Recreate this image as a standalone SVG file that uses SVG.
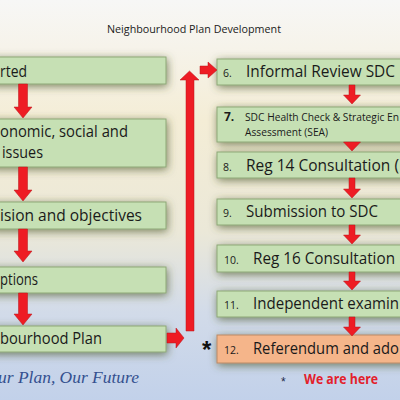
<svg xmlns="http://www.w3.org/2000/svg" width="400" height="400" viewBox="0 0 400 400">
<defs>
<linearGradient id="bg" x1="0" y1="0" x2="0" y2="1">
<stop offset="0" stop-color="#f7f7f6"/>
<stop offset="0.12" stop-color="#f6f3ea"/>
<stop offset="0.3" stop-color="#f4edd6"/>
<stop offset="0.58" stop-color="#ebe8d8"/>
<stop offset="0.78" stop-color="#d2dbe9"/>
<stop offset="1" stop-color="#c2d1ea"/>
</linearGradient>
<filter id="sh" x="-20%" y="-70%" width="140%" height="240%">
<feGaussianBlur in="SourceAlpha" stdDeviation="4.5"/>
<feOffset dx="1" dy="2" result="b"/>
<feFlood flood-color="#4a5628" flood-opacity="0.7"/>
<feComposite in2="b" operator="in"/>
<feMerge><feMergeNode/><feMergeNode in="SourceGraphic"/></feMerge>
</filter>
<style>
.box{fill:#c6e0b4;stroke:#8ea877;stroke-width:1;filter:url(#sh)}
.org{fill:#f5b58a;stroke:#b98a66;stroke-width:1;filter:url(#sh)}
.t{font-family:"Open Sans","Liberation Sans",sans-serif;fill:#1a1a1a}
.big{font-size:15.5px}
.num{font-size:10.5px}
.sm{font-size:11px}
.arr{fill:#ee1c24;stroke:#b8141b;stroke-width:0.5}
</style>
</defs>
<rect x="0" y="0" width="400" height="400" fill="url(#bg)"/>
<text class="t" x="107" y="33" font-size="11.5" fill="#333" textLength="174" lengthAdjust="spacingAndGlyphs">Neighbourhood Plan Development</text>

<g id="n1"><rect class="box" x="-10" y="57" width="176" height="27"/>
<text class="t big" x="0" y="77" textLength="27" lengthAdjust="spacingAndGlyphs">rted</text></g>
<g id="n2"><rect class="box" x="-10" y="119" width="176" height="48"/>
<text class="t big" x="0" y="137" textLength="128" lengthAdjust="spacingAndGlyphs">onomic, social and</text>
<text class="t big" x="2" y="158" textLength="41" lengthAdjust="spacingAndGlyphs">issues</text></g>
<g id="n3"><rect class="box" x="-10" y="202" width="176" height="27"/>
<text class="t big" x="0" y="221" textLength="142" lengthAdjust="spacingAndGlyphs">ision and objectives</text></g>
<g id="n4"><rect class="box" x="-10" y="267" width="176" height="26"/>
<text class="t big" x="0" y="285" textLength="38" lengthAdjust="spacingAndGlyphs">ptions</text></g>
<g id="n5"><rect class="box" x="-10" y="326" width="176" height="26"/>
<text class="t big" x="0" y="344" textLength="102" lengthAdjust="spacingAndGlyphs">bourhood Plan</text></g>

<g id="n6"><rect class="box" x="217" y="59" width="200" height="26"/>
<text class="t num" x="223" y="77">6.</text>
<text class="t big" x="246" y="77" textLength="149" lengthAdjust="spacingAndGlyphs">Informal Review SDC</text></g>
<g id="n7"><rect class="box" x="217" y="107" width="200" height="35"/>
<text class="t" x="224" y="121" font-size="12" font-weight="bold">7.</text>
<text class="t sm" x="245" y="121" textLength="154" lengthAdjust="spacingAndGlyphs">SDC Health Check &amp; Strategic En</text>
<text class="t sm" x="245" y="136" textLength="83" lengthAdjust="spacingAndGlyphs">Assessment (SEA)</text></g>
<g id="n8"><rect class="box" x="217" y="152" width="200" height="26"/>
<text class="t num" x="223" y="171">8.</text>
<text class="t big" x="246" y="171" textLength="153" lengthAdjust="spacingAndGlyphs">Reg 14 Consultation (</text></g>
<g id="n9"><rect class="box" x="217" y="199" width="200" height="26"/>
<text class="t num" x="223" y="217">9.</text>
<text class="t big" x="246" y="217" textLength="132" lengthAdjust="spacingAndGlyphs">Submission to SDC</text></g>
<g id="n10"><rect class="box" x="217" y="245" width="200" height="27"/>
<text class="t num" x="224" y="264">10.</text>
<text class="t big" x="253" y="264" textLength="142" lengthAdjust="spacingAndGlyphs">Reg 16 Consultation</text></g>
<g id="n11"><rect class="box" x="217" y="291" width="200" height="26"/>
<text class="t num" x="224" y="309">11.</text>
<text class="t big" x="253" y="309" textLength="146" lengthAdjust="spacingAndGlyphs">Independent examin</text></g>
<g id="n12"><rect class="org" x="217" y="335" width="200" height="28"/>
<text class="t num" x="224" y="354">12.</text>
<text class="t big" x="253" y="354" textLength="146" lengthAdjust="spacingAndGlyphs">Referendum and ado</text></g>

<g id="connectors">
<polygon class="arr" points="18.5,84 27.5,84 27.5,107 32,107 23,118 14,107 18.5,107"/>
<polygon class="arr" points="18.5,167 27.5,167 27.5,190 32,190 23,201 14,190 18.5,190"/>
<polygon class="arr" points="18.5,229 27.5,229 27.5,251 32,251 23,262 14,251 18.5,251"/>
<polygon class="arr" points="18.5,293 27.5,293 27.5,314 32,314 23,325 14,314 18.5,314"/>
<polygon class="arr" points="167,333 176,333 176,328 184,338 176,348 176,343 167,343"/>
<polygon class="arr" points="186,331 186,80 180,80 189.5,71 199,80 194,80 194,331"/>
<polygon class="arr" points="200,66 208,66 208,62 217,70 208,78 208,74 200,74"/>
<polygon class="arr" points="349,85 355,85 355,95 360.5,95 352,104 343.5,95 349,95"/>
<polygon class="arr" points="343.5,142 360.5,142 352,151"/>
<polygon class="arr" points="349,178 355,178 355,189 360.5,189 352,198 343.5,189 349,189"/>
<polygon class="arr" points="349,225 355,225 355,235 360.5,235 352,244 343.5,235 349,235"/>
<polygon class="arr" points="349,272 355,272 355,281 360.5,281 352,290 343.5,281 349,281"/>
<polygon class="arr" points="349,317 355,317 355,327 360.5,327 352,336 343.5,327 349,327"/>
</g>

<text x="202" y="358" font-family="Liberation Sans,sans-serif" font-size="24" font-weight="bold" fill="#111">*</text>
<text x="-2" y="383" font-family="Liberation Serif,serif" font-style="italic" font-size="16" fill="#34508f" textLength="141" lengthAdjust="spacingAndGlyphs">ur Plan, Our Future</text>
<text x="281" y="386" font-family="Liberation Sans,sans-serif" font-size="12" fill="#1f2a4a">*</text>
<text x="304" y="384" font-family="Open Sans,Liberation Sans,sans-serif" font-size="13.5" font-weight="bold" fill="#e3202a" textLength="74" lengthAdjust="spacingAndGlyphs">We are here</text>
</svg>
